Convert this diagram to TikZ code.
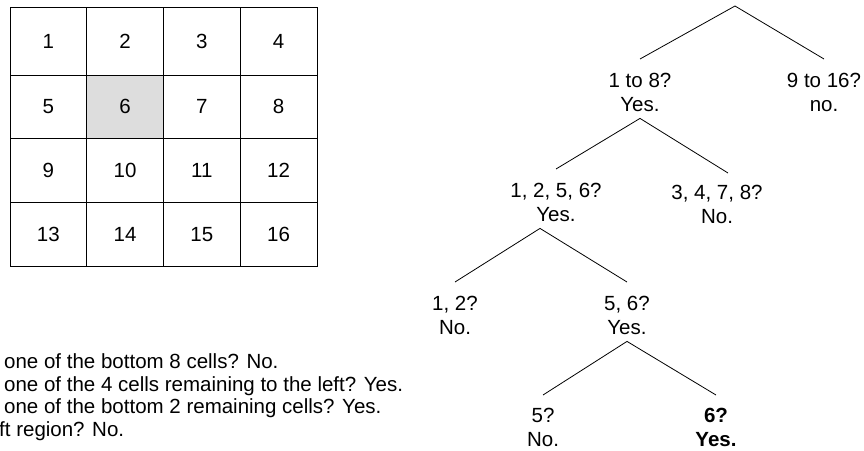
\documentclass[tikz,border=0pt]{standalone}
\usepackage{fontspec}
\setmainfont{Liberation Sans}
\definecolor{pickgray}{RGB}{221,221,221}

\begin{document}
\begin{tikzpicture}[x=1pt,y=-1pt,
  cell/.style={draw,line width=0.8pt,minimum width=76.75pt,minimum height=63.67pt,inner sep=0pt,font=\fontsize{20.5}{24}\selectfont},
  ans/.style={anchor=north,align=center,inner sep=0pt,text height=52pt,text depth=7pt,font=\fontsize{20.5}{24}\selectfont},
  leaf/.style={ans,text height=51pt,text depth=1pt},
  pick/.style={leaf,font=\fontsize{20.5}{24}\selectfont\bfseries},
  note/.style={anchor=base west,inner sep=0pt,font=\fontsize{20.5}{24}\selectfont},
  branch/.style={line width=0.8pt}]
\useasboundingbox (0,0) rectangle (864,450);
% grid of cells
\node[cell,minimum height=68pt] (c1) at (48.375,41) {1};
\node[cell,minimum height=68pt] (c2) at (125.125,41) {2};
\node[cell,minimum height=68pt] (c3) at (201.875,41) {3};
\node[cell,minimum height=68pt] (c4) at (278.625,41) {4};
\node[cell] (c5) at (48.375,106.83) {5};
\node[cell,fill=pickgray] (c6) at (125.125,106.83) {6};
\node[cell] (c7) at (201.875,106.83) {7};
\node[cell] (c8) at (278.625,106.83) {8};
\node[cell] (c9) at (48.375,170.5) {9};
\node[cell] (c10) at (125.125,170.5) {10};
\node[cell] (c11) at (201.875,170.5) {11};
\node[cell] (c12) at (278.625,170.5) {12};
\node[cell] (c13) at (48.375,234.17) {13};
\node[cell] (c14) at (125.125,234.17) {14};
\node[cell] (c15) at (201.875,234.17) {15};
\node[cell] (c16) at (278.625,234.17) {16};
% questions
\node[note] (n1) at (4,368) {one of the bottom 8 cells? No.};
\node[note] (n2) at (4,391) {one of the 4 cells remaining to the left? Yes.};
\node[note] (n3) at (4,413) {one of the bottom 2 remaining cells? Yes.};
\node[note] (n4) at (-1,436) {ft region? No.};
% search tree
\coordinate (top) at (735,6);
\node[ans] (a1) at (640,59) {1 to 8?\\Yes.};
\node[ans] (a2) at (824,59) {9 to 16?\\no.};
\node[ans] (b1) at (556,169) {1, 2, 5, 6?\\Yes.};
\node[ans] (b2) at (717,171) {3, 4, 7, 8?\\No.};
\node[ans] (d1) at (455,282) {1, 2?\\No.};
\node[ans] (d2) at (627,282) {5, 6?\\Yes.};
\node[leaf] (e1) at (543,395) {5?\\No.};
\node[pick] (e2) at (716,395) {6?\\Yes.};
\coordinate (fork) at ([xshift=-16pt]b1.south);
\draw[branch] (a1.north) -- (top) -- (a2.north);
\draw[branch] (b1.north) -- (a1.south) -- ([xshift=11pt,yshift=-2pt]b2.north);
\draw[branch] (d1.north) -- (fork) -- (d2.north);
\draw[branch] (e1.north) -- (d2.south) -- (e2.north);
\end{tikzpicture}
\end{document}
